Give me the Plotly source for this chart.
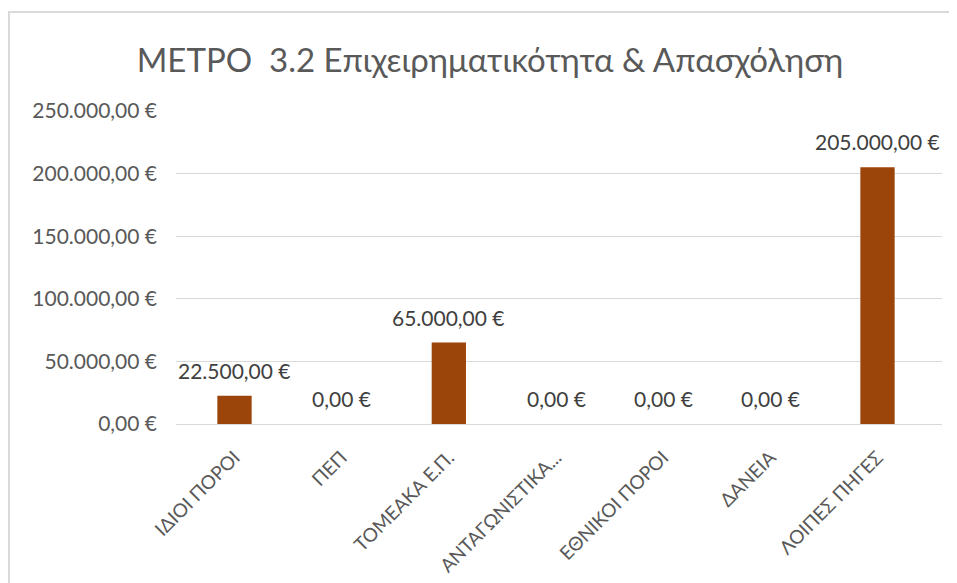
import plotly.graph_objects as go

categories = ["ΙΔΙΟΙ ΠΟΡΟΙ", "ΠΕΠ", "ΤΟΜΕΑΚΑ Ε.Π.", "ΑΝΤΑΓΩΝΙΣΤΙΚΑ...",
              "ΕΘΝΙΚΟΙ ΠΟΡΟΙ", "ΔΑΝΕΙΑ", "ΛΟΙΠΕΣ ΠΗΓΕΣ"]
values = [22500, 0, 65000, 0, 0, 0, 205000]
tick_values = [0, 50000, 100000, 150000, 200000, 250000]
title_text = "ΜΕΤΡΟ  3.2 Επιχειρηματικότητα & Απασχόληση"


def eur(v):
    s = f"{v:,.2f}"
    s = s.replace(",", "X").replace(".", ",").replace("X", ".")
    return s + " €"


FONT = "Lato"
W, H = 949, 575
L, R, T, B = 168, 15, 103, 159
pw, ph = W - L - R, H - T - B

fig = go.Figure(go.Bar(
    x=categories, y=values,
    marker=dict(color="#9C450A", line=dict(width=0)),
    cliponaxis=False,
    hoverinfo="x+y",
))

for c, v in zip(categories, values):
    fig.add_annotation(x=c, y=v, xref="x", yref="y", text=eur(v),
                       showarrow=False, yanchor="bottom", yshift=11,
                       font=dict(family=FONT, size=21, color="#404040"))

fig.update_layout(
    width=W, height=H,
    margin=dict(l=L, r=R, t=T, b=B, autoexpand=False),
    paper_bgcolor="white", plot_bgcolor="white",
    bargap=0.68,
    showlegend=False,
    title=dict(text=title_text, x=(490 - 8) / W, xanchor="center",
               y=1 - (60 - 8) / H, yanchor="middle",
               font=dict(family=FONT, size=33, color="#595959")),
    xaxis=dict(tickangle=-45, tickfont=dict(family=FONT, size=19, color="#595959"),
               showline=True, linecolor="#D9D9D9", linewidth=1, ticks="",
               showgrid=False, ticklabelstandoff=14),
    yaxis=dict(range=[0, 250000], tickvals=tick_values,
               ticktext=[eur(v) for v in tick_values],
               tickfont=dict(family=FONT, size=21, color="#595959"),
               showgrid=True, gridcolor="#D9D9D9", gridwidth=1,
               zeroline=False, ticks="", ticklabelstandoff=18),
    shapes=[dict(type="rect", xref="paper", yref="paper",
                 x0=-(L - 1) / pw, x1=1.2, y0=-1.0, y1=1 + (T - 4) / ph,
                 line=dict(color="#D9D9D9", width=2), layer="below")],
)

fig.write_html("out.html")
